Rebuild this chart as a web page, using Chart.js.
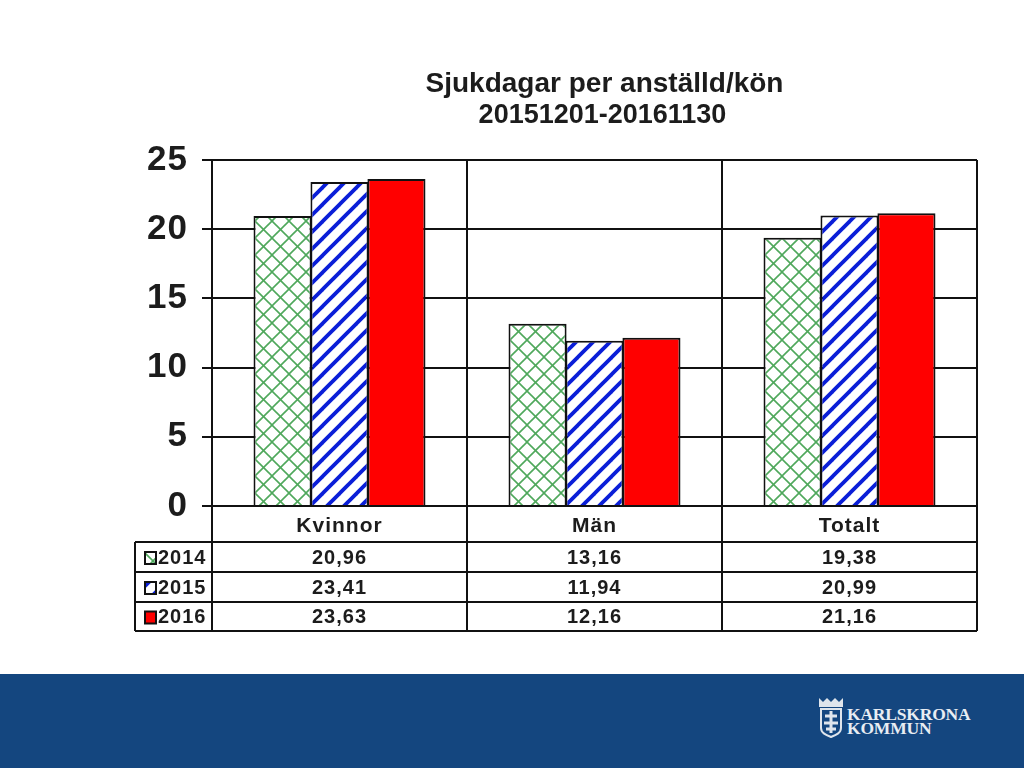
<!DOCTYPE html>
<html><head><meta charset="utf-8">
<style>
html,body{margin:0;padding:0;background:#fff;width:1024px;height:768px;overflow:hidden}
#banner{position:absolute;left:0;top:674px;width:1024px;height:94px;background:#14467f}
#logo{position:absolute;left:847px;top:707px;color:#e8edf3;font:bold 17.5px/14px "Liberation Serif",serif;letter-spacing:-.2px}
#crest{position:absolute;left:818px;top:697px}
#wrap{position:absolute;left:0;top:0;width:1024px;height:768px;filter:blur(.55px)}
</style>
<script src="https://cdn.jsdelivr.net/npm/chart.js@4"></script>
</head><body>
<div id="banner"></div>
<svg id="crest" width="26" height="42" viewBox="0 0 26 42">
<path d="M1 1l4 4 4-4 4 4 4-4 4 4 4-4v9H1z" fill="#dfe5ec"/>
<path d="M3 12h20v19c0 5-5 7-10 9-5-2-10-4-10-9z" fill="#14467f" stroke="#dfe5ec" stroke-width="2"/>
<path d="M13 14v22M7 19h12M6 26h14M8 32h10" stroke="#dfe5ec" stroke-width="3"/>
</svg>
<div id="logo">KARLSKRONA<br>KOMMUN</div>
<div id="wrap"><canvas id="c" width="1024" height="768" style="display:block;width:1024px;height:768px"></canvas></div>
<script>
const categories = ["Kvinnor", "Män", "Totalt"];
const seriesNames = ["2014", "2015", "2016"];
const values2014 = [20.96, 13.16, 19.38];
const values2015 = [23.41, 11.94, 20.99];
const values2016 = [23.63, 12.16, 21.16];
const valueLabels2014 = ["20,96", "13,16", "19,38"];
const valueLabels2015 = ["23,41", "11,94", "20,99"];
const valueLabels2016 = ["23,63", "12,16", "21,16"];
const titleLines = ["Sjukdagar per anställd/kön", "20151201-20161130"];
const titleSizes = [28, 27];
const textColor = "#1c1c1c";

function tile(size, draw){
  const t = document.createElement("canvas");
  t.width = t.height = size;
  draw(t.getContext("2d"), size);
  return document.getElementById("c").getContext("2d").createPattern(t, "repeat");
}
const crossHatch = tile(17, (g, s) => {
  g.fillStyle = "#fff"; g.fillRect(0,0,s,s);
  g.strokeStyle = "#4fa85c"; g.lineWidth = 1.6;
  for (let k = -s; k <= s; k += s) {
    g.beginPath(); g.moveTo(k-s,-s); g.lineTo(k+2*s,2*s); g.stroke();
    g.beginPath(); g.moveTo(k+2*s,-s); g.lineTo(k-s,2*s); g.stroke();
  }
});
const diagonal = tile(17, (g, s) => {
  g.fillStyle = "#fff"; g.fillRect(0,0,s,s);
  g.strokeStyle = "#0a1ed8"; g.lineWidth = 3.8;
  for (let k = -s; k <= s; k += s) {
    g.beginPath(); g.moveTo(k-s,2*s); g.lineTo(k+2*s,-s); g.stroke();
  }
});
const fills = [crossHatch, diagonal, "#ff0000"];

const rowEdges = [506, 542, 572, 602, 631];
const tableLeft = 135;

const dataTable = {
  id: "dataTable",
  beforeDraw(chart) { chart.ctx.letterSpacing = "1px"; },
  afterDraw(chart) {
    const {ctx, chartArea: a, scales: {x}} = chart;
    ctx.save();
    ctx.strokeStyle = "#111"; ctx.lineWidth = 2;
    const line = (x1,y1,x2,y2) => { ctx.beginPath(); ctx.moveTo(x1,y1); ctx.lineTo(x2,y2); ctx.stroke(); };
    const vx = [a.left, a.left + a.width/3, a.left + 2*a.width/3, a.right];
    vx.forEach(v => line(v, rowEdges[0], v, rowEdges[4]));
    line(tableLeft, rowEdges[1], a.right, rowEdges[1]);
    line(tableLeft, rowEdges[2], a.right, rowEdges[2]);
    line(tableLeft, rowEdges[3], a.right, rowEdges[3]);
    line(tableLeft, rowEdges[4], a.right, rowEdges[4]);
    line(tableLeft, rowEdges[1], tableLeft, rowEdges[4]);
    ctx.fillStyle = textColor; ctx.textBaseline = "middle";
    const rows = [valueLabels2014, valueLabels2015, valueLabels2016];
    rows.forEach((r, i) => {
      const cy = (rowEdges[i+1] + rowEdges[i+2]) / 2 + 1;
      ctx.font = 'bold 20px "Liberation Sans", Arial, sans-serif';
      ctx.textAlign = "center";
      r.forEach((t, j) => ctx.fillText(t, x.getPixelForTick(j), cy));
      ctx.textAlign = "left";
      ctx.fillText(seriesNames[i], 158, cy);
      ctx.fillStyle = fills[i];
      ctx.fillRect(145, cy-6, 11, 12);
      ctx.strokeRect(145, cy-6, 11, 12);
      ctx.fillStyle = textColor;
    });
    ctx.textAlign = "center";
    ctx.letterSpacing = "0px";
    titleLines.forEach((t, i) => {
      ctx.font = 'bold ' + titleSizes[i] + 'px "Liberation Sans", Arial, sans-serif';
      ctx.fillText(t, i ? 602.5 : 604.5, 84 + i*32);
    });
    ctx.restore();
  }
};

new Chart(document.getElementById("c"), {
  type: "bar",
  data: {
    labels: categories,
    datasets: [values2014, values2015, values2016].map((d, i) => ({
      label: seriesNames[i], data: d, backgroundColor: fills[i],
      borderColor: "#111", borderWidth: 2
    }))
  },
  options: {
    responsive: false, animation: false, devicePixelRatio: 1,
    layout: {padding: {left: 0, right: 47, top: 160, bottom: 0}},
    datasets: {bar: {barPercentage: 1.02, categoryPercentage: 0.67}},
    plugins: {legend: {display: false}, tooltip: {enabled: false}, title: {display: false}},
    scales: {
      x: {
        grid: {color: "#111", lineWidth: 2, tickLength: 0, drawTicks: false},
        border: {color: "#111", width: 2},
        ticks: {color: textColor, font: {family: '"Liberation Sans", Arial, sans-serif', size: 21, weight: "bold"}, padding: 8, maxRotation: 0},
        afterFit(s) { s.height = 262; }
      },
      y: {
        min: 0, max: 25,
        grid: {color: "#111", lineWidth: 2, tickLength: 10, tickColor: "#111"},
        border: {color: "#111", width: 2},
        ticks: {stepSize: 5, color: textColor, padding: 14, font: {family: '"Liberation Sans", Arial, sans-serif', size: 35, weight: "bold"}},
        afterFit(s) { s.width = 212; }
      }
    }
  },
  plugins: [dataTable]
});
</script>
</body></html>
